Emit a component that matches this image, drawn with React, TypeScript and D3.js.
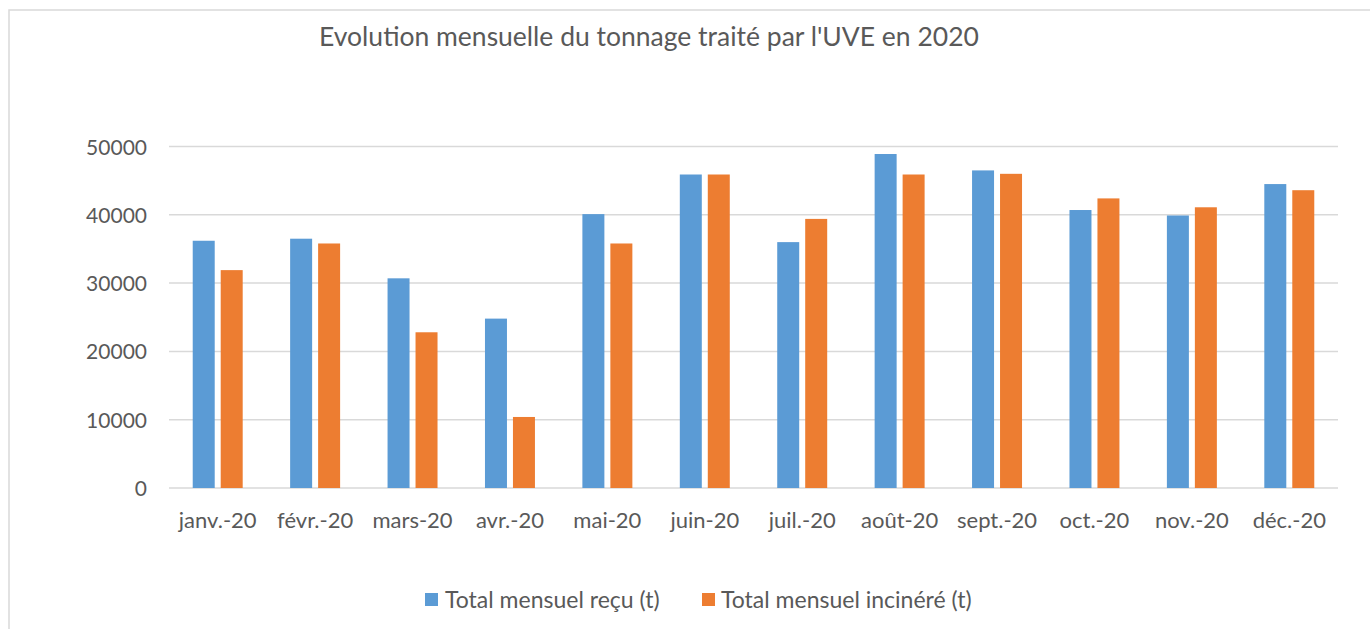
import React from "react";
import * as d3 from "d3";

const months = ["janv.-20", "févr.-20", "mars-20", "avr.-20", "mai-20", "juin-20", "juil.-20", "août-20", "sept.-20", "oct.-20", "nov.-20", "déc.-20"];
const seriesNames = ["Total mensuel reçu (t)", "Total mensuel incinéré (t)"];
const recu = [36200, 36500, 30700, 24800, 40100, 45900, 36000, 48900, 46500, 40700, 39900, 44500];
const incinere = [31900, 35800, 22800, 10400, 35800, 45900, 39400, 45900, 46000, 42400, 41100, 43600];
const yTicks = [0, 10000, 20000, 30000, 40000, 50000];
const title = "Evolution mensuelle du tonnage traité par l'UVE en 2020";

const colors = ["#5B9BD5", "#ED7D31"];
const textColor = "#595959";
const gridColor = "#d9d9d9";
const FONT = "Lato, 'Open Sans', sans-serif";

export default function App() {
  const W = 1370, H = 629;
  const x0 = d3.scaleBand<string>().domain(months).range([169, 1338]).paddingInner(0.487).paddingOuter(0.2435);
  const x1 = d3.scaleBand<string>().domain(seriesNames).range([0, x0.bandwidth()]).paddingInner(0.214);
  const y = d3.scaleLinear().domain([0, 50000]).range([488, 146.5]);
  const data = [recu, incinere];

  return (
    <svg width={W} height={H} style={{ position: "absolute", left: 0, top: 0, background: "#fff" }} fontFamily={FONT}>
      <rect x={0} y={0} width={W} height={H} fill="#fff" />
      <rect x={9} y={10} width={W + 50} height={H + 50} fill="#fff" stroke={gridColor} strokeWidth={1.5} />
      <text x={649} y={46} textAnchor="middle" fontSize={26.5} fill={textColor}>{title}</text>
      {yTicks.map((t) => (
        <g key={t}>
          <line x1={169} x2={1338} y1={y(t)} y2={y(t)} stroke={gridColor} strokeWidth={1.5} />
          <text x={147} y={y(t) + 8} textAnchor="end" fontSize={21} fill={textColor}>{t}</text>
        </g>
      ))}
      {months.map((m, i) => (
        <g key={m}>
          {data.map((vals, s) => (
            <rect
              key={s}
              x={(x0(m) as number) + (x1(seriesNames[s]) as number)}
              y={y(vals[i])}
              width={x1.bandwidth()}
              height={y(0) - y(vals[i])}
              fill={colors[s]}
            />
          ))}
          <text x={(x0(m) as number) + x0.bandwidth() / 2} y={528} textAnchor="middle" fontSize={22} fill={textColor}>{m}</text>
        </g>
      ))}
      <g>
        <rect x={425} y={593} width={13} height={13} fill={colors[0]} />
        <text x={445} y={608} fontSize={23} fill={textColor}>{seriesNames[0]}</text>
        <rect x={702} y={593} width={13} height={13} fill={colors[1]} />
        <text x={721} y={608} fontSize={23} fill={textColor}>{seriesNames[1]}</text>
      </g>
    </svg>
  );
}
